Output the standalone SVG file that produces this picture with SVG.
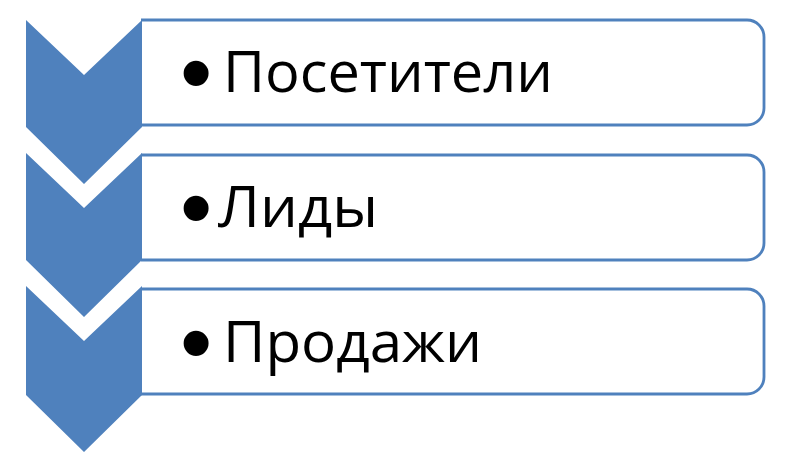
<svg xmlns="http://www.w3.org/2000/svg" width="811" height="454" viewBox="0 0 811 454">
<style>
.chev{fill:#4F81BD;stroke:none}
.box{fill:#FFFFFF;stroke:#4F81BD;stroke-width:2.8}
.t{font-family:"Open Sans","Liberation Sans",sans-serif;font-size:56px;fill:#000000}
.b{font-family:"Liberation Sans",sans-serif;font-size:92px;fill:#000000}
</style>
<rect width="811" height="454" fill="#FFFFFF"/>
<g id="item1">
<path class="box" d="M141,20 H747 A17,17 0 0 1 764,37 V108 A17,17 0 0 1 747,125 H141"/>
<polygon class="chev" points="26,20 84,75 142,20 142,127 84,184 26,127"/>
<text class="b" x="180" y="103.5">•</text>
<text class="t" x="223" y="92" textLength="330" lengthAdjust="spacingAndGlyphs">Посетители</text>
</g>
<g id="item2">
<path class="box" d="M141,155 H747 A17,17 0 0 1 764,172 V243 A17,17 0 0 1 747,260 H141"/>
<polygon class="chev" points="26,153 84,208 142,153 142,260 84,317 26,260"/>
<text class="b" x="180" y="238.5">•</text>
<text class="t" x="218" y="227" textLength="160" lengthAdjust="spacingAndGlyphs">Лиды</text>
</g>
<g id="item3">
<path class="box" d="M141,289 H747 A17,17 0 0 1 764,306 V377 A17,17 0 0 1 747,394 H141"/>
<polygon class="chev" points="26,286 84,341 142,286 142,395 84,452 26,395"/>
<text class="b" x="180" y="373.5">•</text>
<text class="t" x="223" y="362" textLength="259" lengthAdjust="spacingAndGlyphs">Продажи</text>
</g>
<g id="connectors"></g>
</svg>
